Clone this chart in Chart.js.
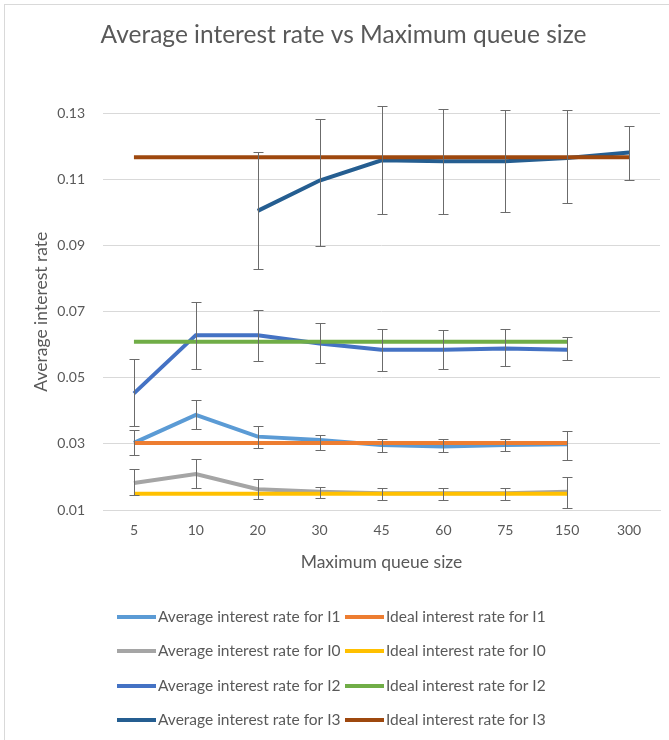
<!DOCTYPE html>
<html>
<head>
<meta charset="utf-8">
<script src="https://cdn.jsdelivr.net/npm/chart.js@4.4.1/dist/chart.umd.min.js"></script>
<style>
  body { margin: 0; background: #fff; }
  #frame { position: absolute; left: 4px; top: 4px; width: 700px; height: 760px;
           border-left: 1px solid #d9d9d9; border-top: 1px solid #d9d9d9; }
  #wrap { position: absolute; left: 0; top: 0; width: 669px; height: 740px; }
</style>
</head>
<body>
<div id="frame"></div>
<div id="wrap"><canvas id="myChart" width="669" height="740"></canvas></div>
<script>
const categories = ['5', '10', '20', '30', '45', '60', '75', '150', '300'];
const yTicks = [0.01, 0.03, 0.05, 0.07, 0.09, 0.11, 0.13];

const avgI1     = [0.0303, 0.0388, 0.0322, 0.0312, 0.0297, 0.0292, 0.0297, 0.0299, null];
const avgI1Low  = [0.0266, 0.0345, 0.0289, 0.0283, 0.0275, 0.0275, 0.0279, 0.0251, null];
const avgI1High = [0.0342, 0.0432, 0.0353, 0.0326, 0.0316, 0.0316, 0.0316, 0.0339, null];
const idealI1   = [0.0303, 0.0303, 0.0303, 0.0303, 0.0303, 0.0303, 0.0303, 0.0303, null];

const avgI0     = [0.0182, 0.0209, 0.0163, 0.0155, 0.0151, 0.0151, 0.0151, 0.0155, null];
const avgI0Low  = [0.0146, 0.0166, 0.0132, 0.0137, 0.0131, 0.0131, 0.0131, 0.0106, null];
const avgI0High = [0.0223, 0.0255, 0.0195, 0.0171, 0.0166, 0.0166, 0.0166, 0.0199, null];
const idealI0   = [0.0149, 0.0149, 0.0149, 0.0149, 0.0149, 0.0149, 0.0149, 0.0149, null];

const avgI2     = [0.0453, 0.0629, 0.0629, 0.0604, 0.0585, 0.0585, 0.0589, 0.0585, null];
const avgI2Low  = [0.0354, 0.0526, 0.0550, 0.0545, 0.0522, 0.0526, 0.0535, 0.0555, null];
const avgI2High = [0.0558, 0.0729, 0.0705, 0.0665, 0.0649, 0.0646, 0.0649, 0.0622, null];
const idealI2   = [0.0609, 0.0609, 0.0609, 0.0609, 0.0609, 0.0609, 0.0609, 0.0609, null];

const avgI3     = [null, null, 0.1005, 0.1097, 0.1158, 0.1155, 0.1155, 0.1165, 0.1182];
const avgI3Low  = [null, null, 0.0830, 0.0900, 0.0997, 0.0997, 0.1002, 0.1030, 0.1100];
const avgI3High = [null, null, 0.1184, 0.1284, 0.1323, 0.1312, 0.1309, 0.1309, 0.1262];
const idealI3   = [0.1167, 0.1167, 0.1167, 0.1167, 0.1167, 0.1167, 0.1167, 0.1167, 0.1167];

const gris = '#595959';
const fuente = 'Lato';

// barras de error (no vienen con chart.js)
const barrasError = {
  id: 'barrasError',
  afterDatasetsDraw(chart) {
    const ctx = chart.ctx;
    const y = chart.scales.y;
    ctx.save();
    ctx.strokeStyle = '#6b6b6b';
    ctx.lineWidth = 1;
    chart.data.datasets.forEach((ds, i) => {
      if (!ds.errLow) return;
      const meta = chart.getDatasetMeta(i);
      ds.errLow.forEach((lo, j) => {
        const hi = ds.errHigh[j];
        if (lo == null || hi == null) return;
        const x = Math.round(meta.data[j].x) + 0.5;
        const y1 = Math.round(y.getPixelForValue(lo)) + 0.5;
        const y2 = Math.round(y.getPixelForValue(hi)) + 0.5;
        ctx.beginPath();
        ctx.moveTo(x, y1); ctx.lineTo(x, y2);
        ctx.moveTo(x - 5, y1); ctx.lineTo(x + 5, y1);
        ctx.moveTo(x - 5, y2); ctx.lineTo(x + 5, y2);
        ctx.stroke();
      });
    });
    ctx.restore();
  }
};

// leyenda en dos columnas como la de excel
const leyenda = {
  id: 'leyenda',
  afterDraw(chart) {
    const ctx = chart.ctx;
    const filas = [617, 651, 686, 720];
    const columnas = [117, 345];
    ctx.save();
    ctx.font = '15.5px ' + fuente;
    ctx.fillStyle = gris;
    ctx.textBaseline = 'middle';
    chart.data.datasets.forEach((ds, i) => {
      const x = columnas[i % 2];
      const yy = filas[Math.floor(i / 2)];
      ctx.strokeStyle = ds.borderColor;
      ctx.lineWidth = 4;
      ctx.beginPath();
      ctx.moveTo(x, yy); ctx.lineTo(x + 39, yy);
      ctx.stroke();
      ctx.fillText(ds.label, x + 41, yy);
    });
    ctx.restore();
  }
};

const serie = (label, data, color, orden, low, high) => ({
  type: 'line', label: label, data: data,
  borderColor: color, backgroundColor: color,
  borderWidth: 4, pointRadius: 0, tension: 0,
  order: orden, errLow: low, errHigh: high
});

const ctx = document.getElementById('myChart');

new Chart(ctx, {
  type: 'line',
  data: {
    labels: categories,
    datasets: [
      serie('Average interest rate for I1', avgI1, '#5B9BD5', 8, avgI1Low, avgI1High),
      serie('Ideal interest rate for I1', idealI1, '#ED7D31', 7),
      serie('Average interest rate for I0', avgI0, '#A5A5A5', 6, avgI0Low, avgI0High),
      serie('Ideal interest rate for I0', idealI0, '#FFC000', 5),
      serie('Average interest rate for I2', avgI2, '#4472C4', 4, avgI2Low, avgI2High),
      serie('Ideal interest rate for I2', idealI2, '#70AD47', 3),
      serie('Average interest rate for I3', avgI3, '#255E91', 2, avgI3Low, avgI3High),
      serie('Ideal interest rate for I3', idealI3, '#9E480E', 1)
    ]
  },
  options: {
    responsive: false,
    animation: false,
    layout: { padding: { left: 27, right: 9, top: 0, bottom: 160 } },
    plugins: {
      legend: { display: false },
      tooltip: { enabled: false },
      title: {
        display: true,
        text: 'Average interest rate vs Maximum queue size',
        color: gris,
        font: { family: fuente, size: 24.5, weight: 'normal' },
        padding: { top: 20, bottom: 64 }
      }
    },
    scales: {
      x: {
        offset: true,
        grid: { display: false, drawTicks: false },
        border: { display: true, color: '#d9d9d9' },
        ticks: { color: gris, font: { family: fuente, size: 14 }, padding: 12, maxRotation: 0 },
        title: {
          display: true, text: 'Maximum queue size', color: gris,
          font: { family: fuente, size: 17.5 }, padding: { top: 0, bottom: 7 }
        },
        afterFit(s) { s.height = 70; }
      },
      y: {
        min: 0.01, max: 0.13,
        grid: { color: '#d9d9d9', drawTicks: false },
        border: { display: false },
        afterBuildTicks(s) { s.ticks = yTicks.map(v => ({ value: v })); },
        ticks: {
          color: gris, font: { family: fuente, size: 14 }, padding: 18,
          callback: v => v.toFixed(2)
        },
        title: {
          display: true, text: 'Average interest rate', color: gris,
          font: { family: fuente, size: 17.5 }, padding: { top: 4, bottom: 0 }
        },
        afterFit(s) { s.width = 76; }
      }
    }
  },
  plugins: [barrasError, leyenda]
});
</script>
</body>
</html>
